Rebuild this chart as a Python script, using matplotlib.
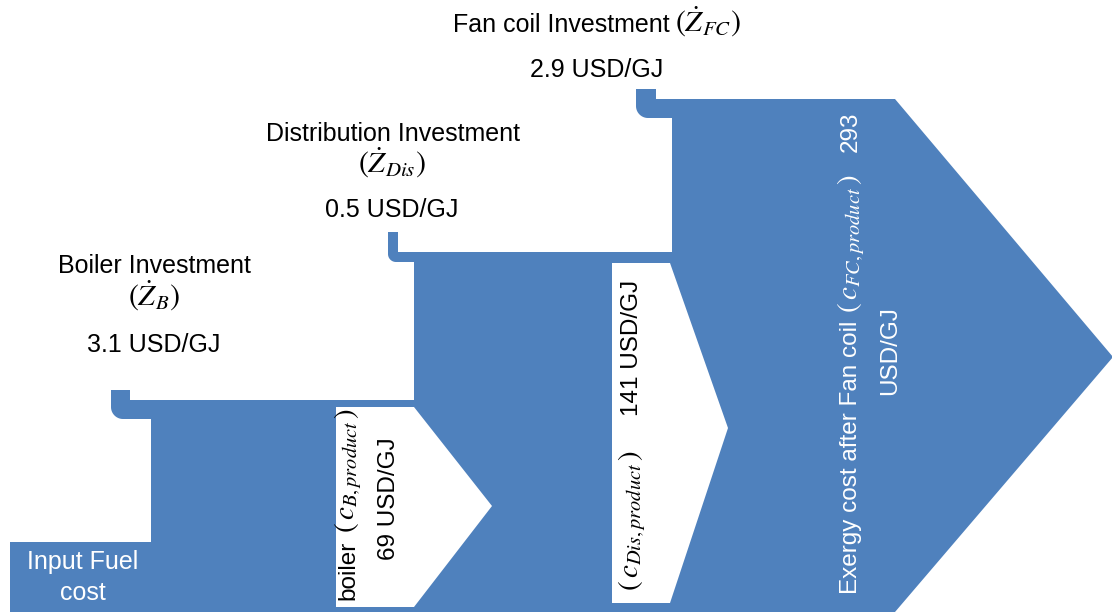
import numpy as np
import matplotlib
matplotlib.use("Agg")
import matplotlib.pyplot as plt
from matplotlib.patches import Polygon, Rectangle

plt.rcParams["font.family"] = ["Liberation Sans", "DejaVu Sans"]
plt.rcParams["mathtext.fontset"] = "stix"

# Cost values (USD/GJ)
stage_names = ["Boiler", "Distribution", "Fan coil"]
stage_symbols = ["B", "Dis", "FC"]
investment_cost = [3.1, 0.5, 2.9]
product_cost = [69, 141, 293]

BLUE = "#4F81BD"
FS_H = 18      # horizontal labels
FS_V = 17.5    # rotated labels
FM_H = 21.5    # math in horizontal labels
FM_V = 21      # math in rotated labels

fig = plt.figure(figsize=(11.12, 6.12), dpi=100)
ax = fig.add_axes([0, 0, 1, 1])
ax.set_xlim(0, 1112)
ax.set_ylim(612, 0)
ax.axis("off")
renderer = fig.canvas.get_renderer()


def add_poly(pts, color):
    ax.add_patch(Polygon(pts, closed=True, facecolor=color, edgecolor="none"))


def pipe(x0, stub_w, y_stub, y_band, band_h, x_end, r):
    """Investment inflow: a short vertical stub bending into a horizontal band."""
    yb = y_band + band_h
    pts = [(x0, y_stub), (x0 + stub_w, y_stub), (x0 + stub_w, y_band),
           (x_end, y_band), (x_end, yb), (x0 + r, yb)]
    cx, cy = x0 + r, yb - r
    for t in np.linspace(0, np.pi / 2, 20):
        pts.append((cx - r * np.sin(t), cy + r * np.cos(t)))
    pts.append((x0, y_stub))
    add_poly(pts, BLUE)


def text_len(s, size):
    t = ax.text(0, 0, s, fontsize=size)
    w = t.get_window_extent(renderer).width
    t.remove()
    return w


def line(pieces, center, base, vertical=False, color="black"):
    """Lay out text pieces (str, size) and numeric gaps (px) on one baseline."""
    lens = [p if isinstance(p, (int, float)) else text_len(*p) for p in pieces]
    total = sum(lens)
    pos = center + total / 2 if vertical else center - total / 2
    for p, L in zip(pieces, lens):
        if not isinstance(p, (int, float)):
            if vertical:
                ax.text(base, pos, p[0], fontsize=p[1], rotation=90,
                        rotation_mode="anchor", ha="left", va="baseline", color=color)
            else:
                ax.text(pos, base, p[0], fontsize=p[1], ha="left",
                        va="baseline", color=color)
        pos += -L if vertical else L


# Input fuel block
ax.add_patch(Rectangle((10, 542), 142, 70, facecolor=BLUE, edgecolor="none"))
# Boiler block
ax.add_patch(Rectangle((151, 400), 264, 212, facecolor=BLUE, edgecolor="none"))
pipe(111, 19, 390, 400, 19, 152, 12)
# Distribution block
ax.add_patch(Rectangle((414, 252), 259, 360, facecolor=BLUE, edgecolor="none"))
pipe(388, 10, 232, 252, 10, 415, 8)
# Fan coil block with output arrow
add_poly([(672, 99), (895, 99), (1113, 357), (895, 612), (672, 612)], BLUE)
pipe(636, 20, 89, 99, 19, 673, 12)

# White product-label arrows
add_poly([(336, 407), (414, 407), (492, 506), (414, 607), (336, 607)], "white")
add_poly([(612, 263), (670, 263), (728, 428), (670, 603), (612, 603)], "white")


def zdot(sym):
    return rf"$(\dot{{Z}}_{{{sym}}})$"


def cprod(sym):
    return rf"$(\,c_{{{sym},product}}\,)$"


# Investment labels
line([(f"{stage_names[0]} Investment", FS_H)], 154, 273)
line([(zdot(stage_symbols[0]), FM_H)], 154, 306)
line([(f"{investment_cost[0]} USD/GJ", FS_H)], 154, 352)

line([(f"{stage_names[1]} Investment", FS_H)], 393, 141)
line([(zdot(stage_symbols[1]), FM_H)], 392, 173)
line([(f"{investment_cost[1]} USD/GJ", FS_H)], 392, 217)

line([(f"{stage_names[2]} Investment", FS_H), 6, (zdot(stage_symbols[2]), FM_H)], 597, 32)
line([(f"{investment_cost[2]} USD/GJ", FS_H)], 597, 77)

# Input fuel label
line([("Input Fuel", FS_H)], 83, 569, color="white")
line([("cost", FS_H)], 83, 600, color="white")

# Product cost labels (rotated)
line([("boiler", FS_V), 7, (cprod(stage_symbols[0]), FM_V)], 504, 354, vertical=True)
line([(f"{product_cost[0]} USD/GJ", FS_V)], 499, 395, vertical=True)

line([(cprod(stage_symbols[1]), FM_V), 34, (f"{product_cost[1]} USD/GJ", FS_V)],
     435, 638, vertical=True)

line([("Exergy cost after Fan coil", FS_V), 8, (cprod(stage_symbols[2]), FM_V), 22,
      (f"{product_cost[2]}", FS_V)], 353, 857, vertical=True, color="white")
line([("USD/GJ", FS_V)], 351, 896, vertical=True, color="white")

fig.savefig("out.png", dpi=100)
